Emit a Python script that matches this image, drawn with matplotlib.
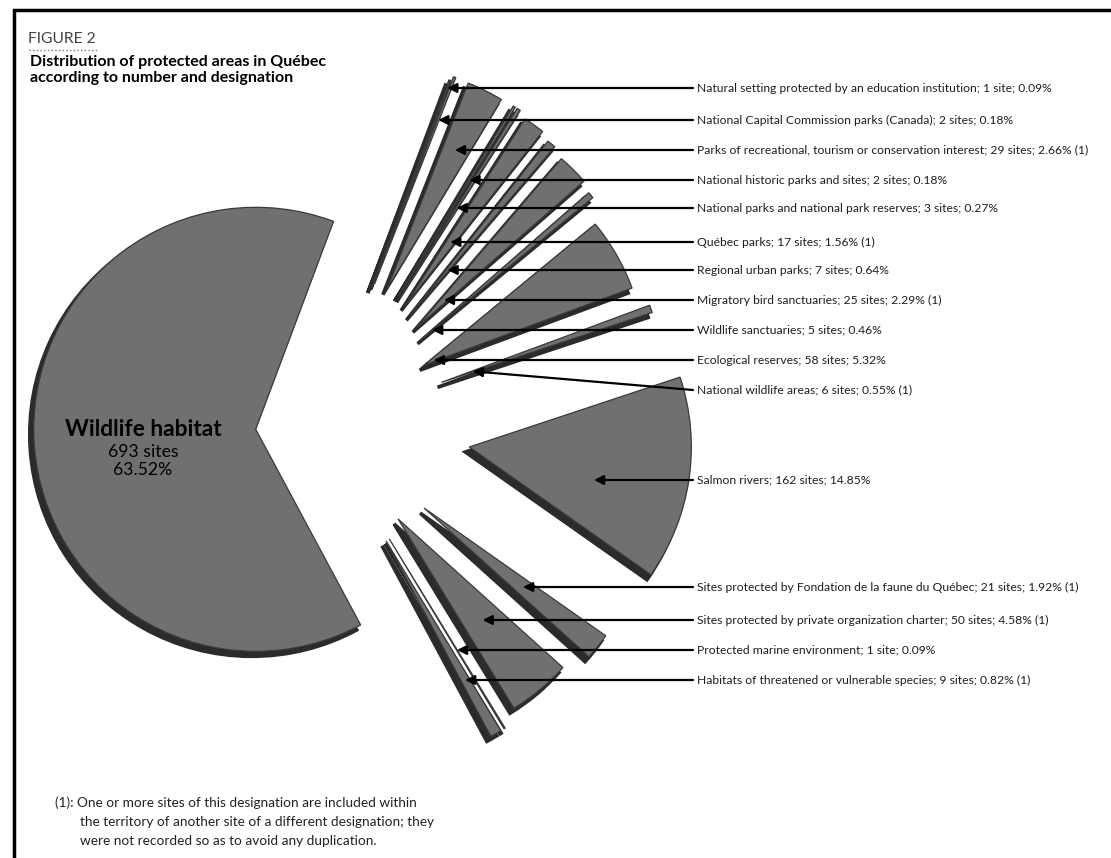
import matplotlib.pyplot as plt
import numpy as np

plt.rcParams['font.family'] = ['Lato', 'DejaVu Sans']

W, H = 1111, 858

# slices, counter-clockwise from the bottom of the fan; wildlife habitat last
names = [
    "Habitats of threatened or vulnerable species",
    "Protected marine environment",
    "Sites protected by private organization charter",
    "Sites protected by Fondation de la faune du Québec",
    "Salmon rivers",
    "National wildlife areas",
    "Ecological reserves",
    "Wildlife sanctuaries",
    "Migratory bird sanctuaries",
    "Regional urban parks",
    "Québec parks",
    "National parks and national park reserves",
    "National historic parks and sites",
    "Parks of recreational, tourism or conservation interest",
    "National Capital Commission parks (Canada)",
    "Natural setting protected by an education institution",
    "Wildlife habitat",
]
sites = [9, 1, 50, 21, 162, 6, 58, 5, 25, 7, 17, 3, 2, 29, 2, 1, 693]
percent = [0.82, 0.09, 4.58, 1.92, 14.85, 0.55, 5.32, 0.46, 2.29, 0.64,
           1.56, 0.27, 0.18, 2.66, 0.18, 0.09, 63.52]
note = [1, 0, 1, 1, 0, 1, 0, 0, 1, 0, 1, 0, 0, 1, 0, 0, 0]

# layout (pixels from top-left)
center = (320, H - 425)
R = 222
explode = [0.60, 0.60, 0.55, 0.60, 0.68, 0.58, 0.54, 0.60, 0.62, 0.64,
           0.66, 0.68, 0.68, 0.68, 0.68, 0.66, 0.29]
label_y = [680, 650, 620, 587, 480, 390, 360, 330, 300, 270, 242, 208,
           180, 150, 120, 88]
start = -61.8

fig = plt.figure(figsize=(W / 100, H / 100), dpi=100)
ax = fig.add_axes([0, 0, 1, 1])
renderer = fig.canvas.get_renderer()


def fit(t, width):
    # shrink/grow a text until it is as wide as in the reference
    w = t.get_window_extent(renderer).width
    t.set_fontsize(t.get_fontsize() * width / w)


expl = [e * R for e in explode]
# shadow / extrusion first, then the faces
ax.pie(percent, explode=expl, startangle=start, radius=R,
       center=(center[0] - 4, center[1] - 5), colors=['#2b2b2b'] * len(percent),
       wedgeprops=dict(edgecolor='#2b2b2b', linewidth=2.6))
wedges, _ = ax.pie(percent, explode=expl, startangle=start, radius=R,
                   center=center, colors=['#6e716e'] * len(percent),
                   wedgeprops=dict(edgecolor='#3a3a3a', linewidth=0.9))

ax.set_xlim(0, W)
ax.set_ylim(0, H)
ax.set_aspect('auto')
ax.axis('off')

# labels with horizontal arrows
label_texts = []
for i, ly in enumerate(label_y):
    n = sites[i]
    txt = f"{names[i]}; {n} site{'s' if n > 1 else ''}; {percent[i]:.2f}%"
    if note[i]:
        txt += " (1)"
    y = H - ly
    label_texts.append(ax.text(697, y, txt, fontsize=9, va='center',
                               ha='left', color='#1e1e1e'))

    w = wedges[i]
    path = w.get_path()
    cx, cy = w.center
    xs = np.arange(cx - R, cx + R, 0.5)
    inside = path.contains_points(np.column_stack([xs, np.full_like(xs, y)]))
    if inside.any():
        xin = xs[inside]
        tx, ty = xin.min() + 0.45 * (xin.max() - xin.min()), y
    else:
        mid = np.radians((w.theta1 + w.theta2) / 2)
        t = np.clip((y - cy) / np.sin(mid), 0.15 * R, 0.9 * R)
        tx, ty = cx + t * np.cos(mid), cy + t * np.sin(mid)
    ax.annotate('', xy=(tx, ty), xytext=(693, y),
                arrowprops=dict(arrowstyle='-|>', color='black', lw=1.6,
                                mutation_scale=14, shrinkA=0, shrinkB=0))

fit(label_texts[-1], 358)
for t in label_texts:
    t.set_fontsize(label_texts[-1].get_fontsize())

# wildlife habitat label
t1 = ax.text(143, H - 430, "Wildlife habitat", fontsize=15, fontweight='bold',
             ha='center', va='center', color='black')
fit(t1, 157)
t2 = ax.text(143, H - 452, f"{sites[-1]} sites", fontsize=12, ha='center',
             va='center', color='black')
fit(t2, 70)
t3 = ax.text(143, H - 470, f"{percent[-1]:.2f}%", fontsize=12, ha='center',
             va='center', color='black')
t3.set_fontsize(t2.get_fontsize())

# frame and headings
ax.plot([14, 14, W], [0, H - 10, H - 10], color='black', lw=2.5,
        solid_joinstyle='miter')
t4 = ax.text(28, H - 39, "FIGURE 2", fontsize=9.5, color='#444444', va='center')
fit(t4, 68)
ax.plot([29, 97], [H - 50, H - 50], color='#777777', lw=1, ls=':')
t5 = ax.text(30, H - 62, "Distribution of protected areas in Québec",
             fontsize=10.5, fontweight='bold', va='center')
fit(t5, 298)
t6 = ax.text(30, H - 78, "according to number and designation",
             fontsize=t5.get_fontsize(), fontweight='bold', va='center')

foot = ["(1): One or more sites of this designation are included within",
        "the territory of another site of a different designation; they",
        "were not recorded so as to avoid any duplication."]
f1 = ax.text(55, H - 803, foot[0], fontsize=10, va='center', color='#222222')
fit(f1, 360)
ax.text(80, H - 822, foot[1], fontsize=f1.get_fontsize(), va='center',
        color='#222222')
ax.text(80, H - 841, foot[2], fontsize=f1.get_fontsize(), va='center',
        color='#222222')

fig.savefig('out.png', dpi=100)
